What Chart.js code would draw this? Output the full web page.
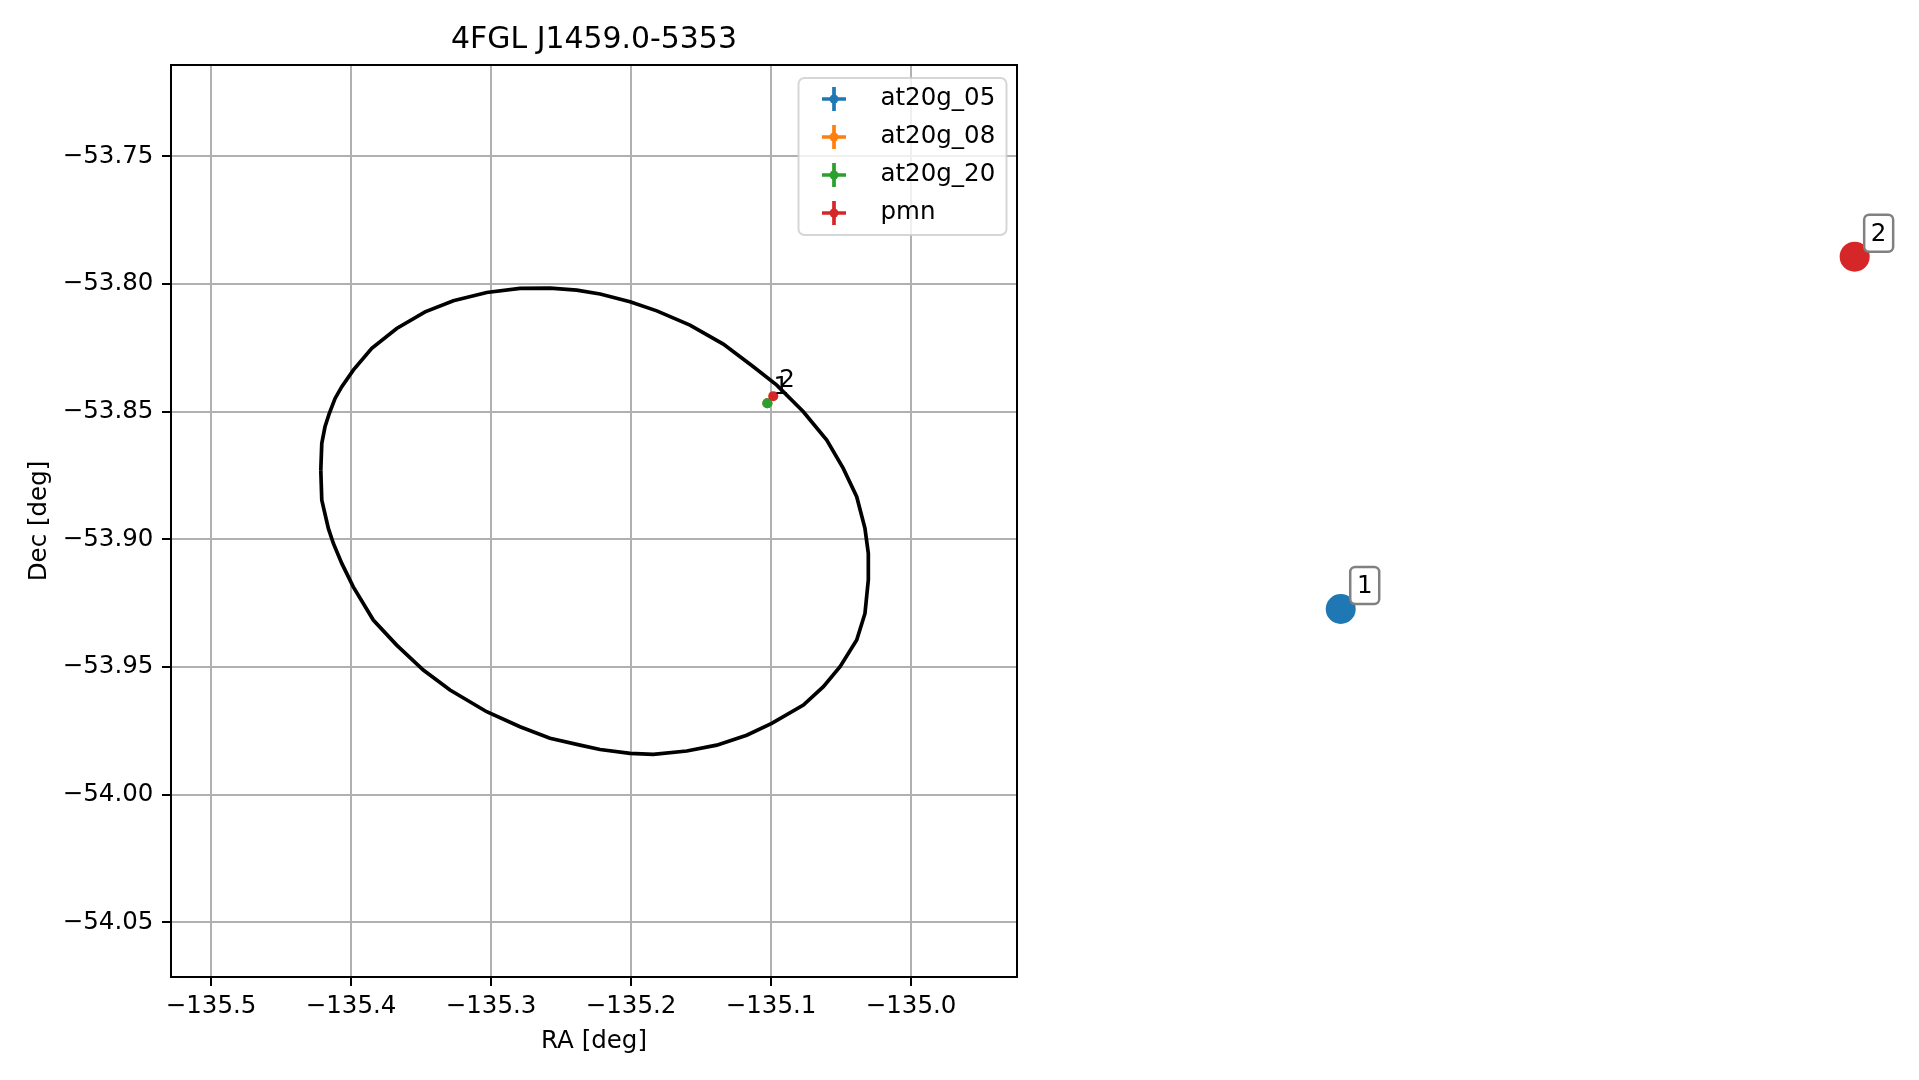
<!DOCTYPE html>
<html>
<head>
<meta charset="utf-8">
<script src="https://cdn.jsdelivr.net/npm/chart.js@4.4.1/dist/chart.umd.min.js"></script>
<style>
  body { margin: 0; background: #fff; overflow: hidden; }
  #skyMap { position: absolute; left: 0; top: 0; }
  #idPanel { position: absolute; left: 1060px; top: 0; }
</style>
</head>
<body>
<canvas id="skyMap" width="1060" height="1080"></canvas>
<canvas id="idPanel" width="859" height="1080"></canvas>
<script>
const FONT = "'DejaVu Sans', sans-serif";
Chart.defaults.font.family = FONT;
Chart.defaults.color = "#000";

const plotTitle = "4FGL J1459.0-5353";

// error ellipse outline (RA, Dec in deg)
const ellipseRa = [
  -135.4216, -135.4209, -135.4186, -135.4155, -135.4114, -135.4066, -135.3984, -135.3852, -135.3674, -135.3471,
  -135.3269, -135.3031, -135.2793, -135.2579, -135.2388, -135.2221, -135.2007, -135.1816, -135.1579, -135.1341,
  -135.1126, -135.0959, -135.0769, -135.0602, -135.0484, -135.0388, -135.0329, -135.0305, -135.0305, -135.0329,
  -135.0388, -135.0507, -135.0626, -135.0769, -135.0995, -135.1174, -135.1388, -135.1602, -135.1841, -135.2007,
  -135.2221, -135.2364, -135.2579, -135.2793, -135.3031, -135.3293, -135.3484, -135.3674, -135.3841, -135.3984,
  -135.4066, -135.4126, -135.4162, -135.4209, -135.4216
];
const ellipseDec = [
  -53.8729, -53.8624, -53.8559, -53.8506, -53.8448, -53.8402, -53.8337, -53.8252, -53.8174, -53.8109,
  -53.8065, -53.8033, -53.8017, -53.8016, -53.8024, -53.8039, -53.8069, -53.8105, -53.8161, -53.8235,
  -53.8324, -53.8396, -53.8500, -53.8611, -53.8722, -53.8833, -53.8957, -53.9055, -53.9159, -53.9290,
  -53.9394, -53.9499, -53.9577, -53.9649, -53.9721, -53.9767, -53.9806, -53.9829, -53.9842, -53.9838,
  -53.9823, -53.9806, -53.9779, -53.9734, -53.9675, -53.9590, -53.9512, -53.9414, -53.9316, -53.9186,
  -53.9094, -53.9016, -53.8957, -53.8846, -53.8729
];

// catalogue sources
const sourceNames = ["at20g_05", "at20g_08", "at20g_20", "pmn"];
const sourceColors = ["#1f77b4", "#ff7f0e", "#2ca02c", "#d62728"];
const sourceRa = [-135.1026, -135.1026, -135.1026, -135.0984];
const sourceDec = [-53.8467, -53.8467, -53.8467, -53.8439];

// numbered labels: text + which source they sit on
const annotLabels = ["1", "2"];
const annotSource = [0, 3];

// axis limits and ticks
const raMin = -135.5286, raMax = -134.9243;
const decMin = -54.0714, decMax = -53.7142;
const raTicks = [-135.5, -135.4, -135.3, -135.2, -135.1, -135.0];
const decTicks = [-53.75, -53.80, -53.85, -53.90, -53.95, -54.00, -54.05];

// right panel (no axes): identified counterparts
const panelX = [0.3268, 0.9251];
const panelY = [0.4361, 0.7623];
const panelLabels = ["1", "2"];
const panelColors = [sourceColors[0], sourceColors[3]];

const fmt = (v, d) => v.toFixed(d).replace("-", "\u2212");

function roundRect(ctx, x, y, w, h, r) {
  ctx.beginPath();
  ctx.moveTo(x + r, y);
  ctx.lineTo(x + w - r, y);
  ctx.arcTo(x + w, y, x + w, y + r, r);
  ctx.lineTo(x + w, y + h - r);
  ctx.arcTo(x + w, y + h, x + w - r, y + h, r);
  ctx.lineTo(x + r, y + h);
  ctx.arcTo(x, y + h, x, y + h - r, r);
  ctx.lineTo(x, y + r);
  ctx.arcTo(x, y, x + r, y, r);
  ctx.closePath();
}

const ellipseSet = {
  label: "ellipse",
  data: ellipseRa.map((ra, i) => ({ x: ra, y: ellipseDec[i] })),
  showLine: true,
  borderColor: "#000",
  borderWidth: 3.7,
  pointRadius: 0,
  fill: false,
  tension: 0,
  order: 10
};

const sourceSets = sourceNames.map((name, i) => ({
  label: name,
  data: [{ x: sourceRa[i], y: sourceDec[i] }],
  backgroundColor: sourceColors[i],
  borderWidth: 0,
  pointRadius: 5,
  order: sourceNames.length - i
}));

const skyDecor = {
  id: "skyDecor",
  afterDraw(chart) {
    const ctx = chart.ctx;
    const a = chart.chartArea;
    const sx = chart.scales.x, sy = chart.scales.y;
    ctx.save();

    // frame
    ctx.strokeStyle = "#000";
    ctx.lineWidth = 2;
    ctx.strokeRect(a.left, a.top, a.right - a.left, a.bottom - a.top);

    // numbered annotations
    ctx.font = "24.5px " + FONT;
    ctx.fillStyle = "#000";
    ctx.textAlign = "left";
    ctx.textBaseline = "alphabetic";
    annotLabels.forEach((t, i) => {
      const s = annotSource[i];
      const px = sx.getPixelForValue(sourceRa[s]);
      const py = sy.getPixelForValue(sourceDec[s]);
      ctx.fillText(t, px + 6, py - 9.5);
    });

    // title
    ctx.font = "29.9px " + FONT;
    ctx.textAlign = "center";
    ctx.fillText(plotTitle, (a.left + a.right) / 2, a.top - 17);

    // legend
    const w = 208, h = 157;
    const lx = a.right - 10.5 - w, ly = a.top + 13;
    roundRect(ctx, lx, ly, w, h, 6);
    ctx.fillStyle = "rgba(255,255,255,0.8)";
    ctx.fill();
    ctx.strokeStyle = "rgba(204,204,204,0.8)";
    ctx.lineWidth = 2;
    ctx.stroke();
    ctx.font = "24.5px " + FONT;
    ctx.textAlign = "left";
    ctx.textBaseline = "middle";
    sourceNames.forEach((name, i) => {
      const cy = ly + 21 + i * 38;
      const cx = lx + 35.5;
      ctx.strokeStyle = sourceColors[i];
      ctx.lineWidth = 3.7;
      ctx.beginPath();
      ctx.moveTo(cx - 12, cy); ctx.lineTo(cx + 12, cy);
      ctx.moveTo(cx, cy - 12); ctx.lineTo(cx, cy + 12);
      ctx.stroke();
      ctx.fillStyle = sourceColors[i];
      ctx.beginPath();
      ctx.arc(cx, cy, 4.5, 0, Math.PI * 2);
      ctx.fill();
      ctx.fillStyle = "#000";
      ctx.fillText(name, lx + 82, cy);
    });
    ctx.restore();
  }
};

new Chart(document.getElementById("skyMap"), {
  type: "scatter",
  data: { datasets: [ellipseSet, ...sourceSets] },
  options: {
    responsive: false,
    animation: false,
    devicePixelRatio: 1,
    layout: { autoPadding: false, padding: { top: 65, right: 43, bottom: 0, left: 0 } },
    plugins: { legend: { display: false }, tooltip: { enabled: false } },
    scales: {
      x: {
        type: "linear",
        min: raMin,
        max: raMax,
        afterBuildTicks: (s) => { s.ticks = raTicks.map((v) => ({ value: v })); },
        afterFit: (s) => { s.height = 103; },
        ticks: { callback: (v) => fmt(v, 1), font: { size: 24.5 }, padding: 5.5, autoSkip: false, maxRotation: 0, color: "#000" },
        grid: { color: "#b0b0b0", lineWidth: 2, tickColor: "#000", tickLength: 9, tickWidth: 2 },
        border: { color: "#000", width: 2 },
        title: { display: true, text: "RA [deg]", font: { size: 24.5 }, color: "#000", padding: { top: 0, bottom: 23.5 } }
      },
      y: {
        type: "linear",
        min: decMin,
        max: decMax,
        afterBuildTicks: (s) => { s.ticks = decTicks.map((v) => ({ value: v })); },
        afterFit: (s) => { s.width = 171; },
        ticks: { callback: (v) => fmt(v, 2), font: { size: 24.5 }, padding: 8.6, autoSkip: false, color: "#000" },
        grid: { color: "#b0b0b0", lineWidth: 2, tickColor: "#000", tickLength: 9, tickWidth: 2 },
        border: { color: "#000", width: 2 },
        title: { display: true, text: "Dec [deg]", font: { size: 24.5 }, color: "#000", padding: { top: 24.5, bottom: 0 } }
      }
    }
  },
  plugins: [skyDecor]
});

const panelDecor = {
  id: "panelDecor",
  afterDraw(chart) {
    const ctx = chart.ctx;
    const sx = chart.scales.x, sy = chart.scales.y;
    ctx.save();
    ctx.font = "24.5px " + FONT;
    ctx.textAlign = "center";
    ctx.textBaseline = "middle";
    panelLabels.forEach((t, i) => {
      const px = sx.getPixelForValue(panelX[i]);
      const py = sy.getPixelForValue(panelY[i]);
      const bx = px + 9.5, by = py - 42, bw = 29, bh = 37;
      roundRect(ctx, bx, by, bw, bh, 5);
      ctx.fillStyle = "#fff";
      ctx.fill();
      ctx.strokeStyle = "rgba(128,128,128,1)";
      ctx.lineWidth = 2.5;
      ctx.stroke();
      ctx.fillStyle = "#000";
      ctx.fillText(t, bx + bw / 2, by + bh / 2 + 1);
    });
    ctx.restore();
  }
};

new Chart(document.getElementById("idPanel"), {
  type: "scatter",
  data: {
    datasets: [{
      label: "ids",
      data: panelX.map((x, i) => ({ x: x, y: panelY[i] })),
      backgroundColor: panelColors,
      borderWidth: 0,
      pointRadius: 15
    }]
  },
  options: {
    responsive: false,
    animation: false,
    devicePixelRatio: 1,
    layout: { autoPadding: false, padding: 0 },
    plugins: { legend: { display: false }, tooltip: { enabled: false } },
    scales: {
      x: { type: "linear", display: false, min: 0, max: 1 },
      y: { type: "linear", display: false, min: 0, max: 1 }
    }
  },
  plugins: [panelDecor]
});
</script>
</body>
</html>
